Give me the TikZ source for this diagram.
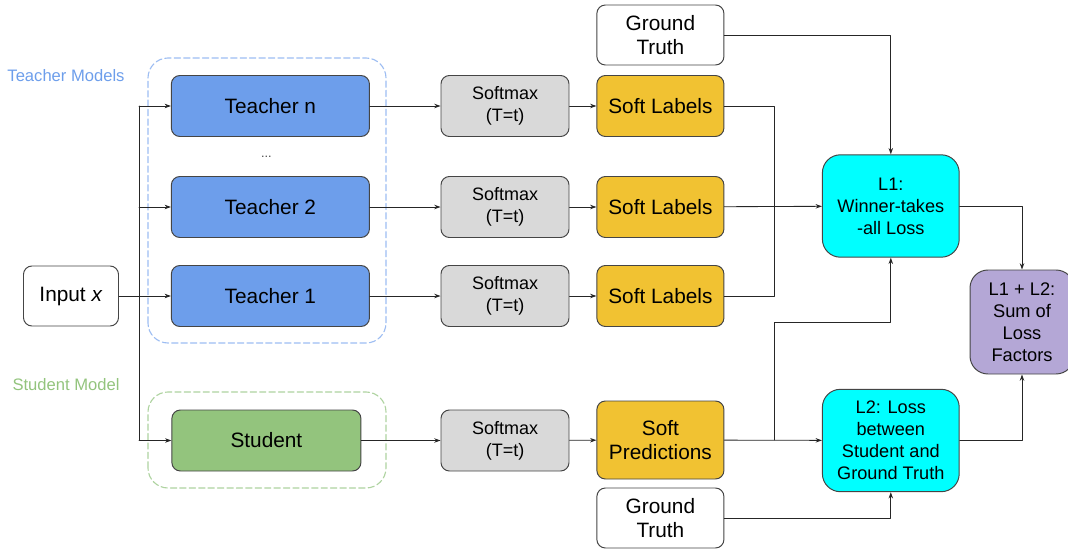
\documentclass[tikz,border=0pt]{standalone}
\usepackage{fontspec}
\setmainfont{Liberation Sans}
\usepackage{tikz}
\usetikzlibrary{arrows.meta,positioning,calc}
\definecolor{KDTeacher}{HTML}{6D9EEB}
\definecolor{KDStudent}{HTML}{93C47D}
\definecolor{KDGrey}{HTML}{D9D9D9}
\definecolor{KDGold}{HTML}{F1C232}
\definecolor{KDCyan}{HTML}{00FFFF}
\definecolor{KDLilac}{HTML}{B4A7D6}
\definecolor{KDEdge}{HTML}{454545}
\definecolor{KDInk}{HTML}{262626}
\definecolor{KDBlueDash}{HTML}{9DBDF2}
\definecolor{KDGreenDash}{HTML}{AED3A0}

\begin{document}
\begin{tikzpicture}[x=1cm,y=1cm,line cap=round,line join=round,
  box/.style={draw=KDEdge,line width=0.7pt,rounded corners=6pt,align=center,
    inner sep=0pt,font=\fontsize{14.8}{17}\selectfont},
  softbox/.style={box,fill=KDGrey,minimum width=3.2cm,minimum height=1.525cm,
    font=\fontsize{12.8}{15.8}\selectfont},
  labelbox/.style={box,fill=KDGold,minimum width=3.175cm,minimum height=1.525cm},
  truthbox/.style={box,fill=white,minimum width=3.175cm,minimum height=1.5cm},
  lossbox/.style={box,fill=KDCyan,rounded corners=0.45cm,minimum width=3.42cm,
    minimum height=2.56cm,font=\fontsize{12.9}{15.6}\selectfont},
  teacherbox/.style={box,fill=KDTeacher,minimum width=4.95cm,minimum height=1.525cm},
  groupframe/.style={line width=0.8pt,dash pattern=on 4.5pt off 2.2pt,
    rounded corners=0.5cm},
  wire/.style={KDInk,line width=0.6pt},
  conn/.style={wire,-{Stealth[length=4.5pt,width=3.2pt]}}]
  \path[use as bounding box] (0,0) rectangle (26.7,13.7);

  % Groups of models.
  \draw[groupframe,KDBlueDash] (3.70,5.125) rectangle (9.65,12.25);
  \draw[groupframe,KDGreenDash] (3.70,1.50) rectangle (9.65,3.90);
  \node[KDTeacher,font=\fontsize{11.8}{14}\selectfont] (tmodels) at (1.65,11.80)
    {Teacher Models};
  \node[KDStudent,font=\fontsize{11.8}{14}\selectfont] (smodels) at (1.65,4.075)
    {Student Model};

  % Input and models.
  \node[box,fill=white,minimum width=2.375cm,minimum height=1.5cm] (input)
    at (1.775,6.30) {Input \textit{x}};
  \node[teacherbox] (tn) at (6.76,11.05) {Teacher n};
  \node[font=\small,KDEdge] (dots) at (6.66,9.78) {...};
  \node[teacherbox] (t2) at (6.76,8.525) {Teacher 2};
  \node[teacherbox] (t1) at (6.76,6.30) {Teacher 1};
  \node[box,fill=KDStudent,minimum width=4.725cm,minimum height=1.525cm] (stud)
    at (6.66,2.6875) {Student};

  % Temperature softmax and its outputs.
  \node[softbox] (smn) at (12.625,11.05) {Softmax\\(T=t)};
  \node[softbox] (sm2) at (12.625,8.525) {Softmax\\(T=t)};
  \node[softbox] (sm1) at (12.625,6.30) {Softmax\\(T=t)};
  \node[softbox] (sms) at (12.625,2.6875) {Softmax\\(T=t)};
  \node[labelbox] (sln) at (16.51,11.05) {Soft Labels};
  \node[labelbox] (sl2) at (16.51,8.525) {Soft Labels};
  \node[labelbox] (sl1) at (16.51,6.30) {Soft Labels};
  \node[labelbox,minimum height=1.95cm] (sp) at (16.51,2.70)
    {Soft\\Predictions};
  \node[truthbox] (gtt) at (16.51,12.825) {Ground\\Truth};
  \node[truthbox] (gtb) at (16.51,0.75) {Ground\\Truth};

  % Losses.
  \node[lossbox] (l1) at (22.27,8.55) {L1:\\Winner-takes\\-all Loss};
  \node[lossbox] (l2) at (22.27,2.6875)
    {L2: Loss\\between\\Student and\\Ground Truth};
  \node[box,fill=KDLilac,rounded corners=0.45cm,minimum width=2.6cm,
        minimum height=2.6cm,font=\fontsize{13}{15.6}\selectfont] (sum)
    at (25.55,5.65) {L1 + L2:\\Sum of\\Loss\\Factors};

  % Input fan-out.
  \coordinate (trunk) at (3.475,0);
  \draw[conn] (input) -- (t1);
  \draw[wire] (trunk |- tn) -- (trunk |- stud);
  \draw[conn] (trunk |- tn) -- (tn);
  \draw[conn] (trunk |- t2) -- (t2);
  \draw[conn] (trunk |- stud) -- (stud);

  \foreach \a/\b/\c in {tn/smn/sln,t2/sm2/sl2,t1/sm1/sl1,stud/sms/sp} {
    \draw[conn] (\a) -- (\b);
    \draw[conn] (\b) -- (\c);
  }

  % Into the losses.
  \coordinate (join) at (19.35,0);
  \draw[wire] (sln.east) -| (join |- sl2);
  \draw[wire] (sl1.east) -| (join |- sl2);
  \draw[conn] (sl2) -- (l1);
  \draw[conn] (gtt.east) -| (l1.north);
  \draw[conn] (sp) -- (l2);
  \draw[conn] (join |- sp) |- (l1.south |- sum.center) -- (l1.south);
  \draw[conn] (gtb.east) -| (l2.south);
  \draw[conn] (l1.east) -| (sum.north);
  \draw[conn] (l2.east) -| (sum.south);
\end{tikzpicture}
\end{document}
